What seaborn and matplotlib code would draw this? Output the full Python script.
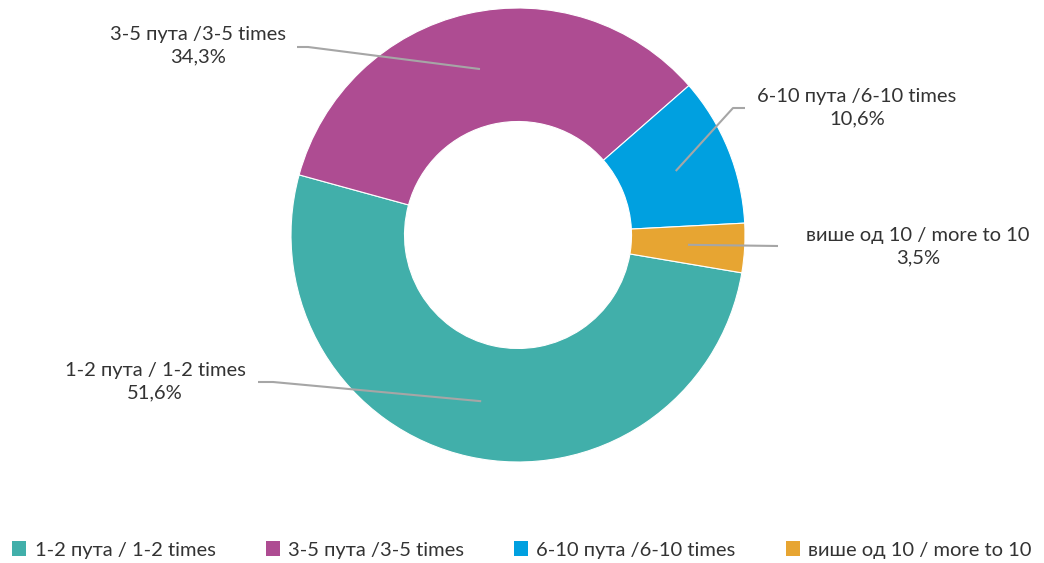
import numpy as np
import seaborn as sns
from matplotlib import pyplot as plt
from matplotlib.patches import Patch

sns.set_theme(style="white")
plt.rcParams['font.family'] = ['Lato', 'Open Sans', 'DejaVu Sans']

# 数据
categories = ['1-2 пута / 1-2 times', '3-5 пута /3-5 times',
              '6-10 пута /6-10 times', 'више од 10 / more to 10']
values = [51.6, 34.3, 10.6, 3.5]
pct_labels = ['51,6%', '34,3%', '10,6%', '3,5%']
colors = ['#41AFAA', '#AE4C92', '#00A0E0', '#E7A532']

W, H = 1044, 563
fig = plt.figure(figsize=(W / 100, H / 100), dpi=100)

# 圆环位置（像素）
cx, cy, R = 518, 235, 227
ax = fig.add_axes([(cx - R) / W, (H - cy - R) / H, 2 * R / W, 2 * R / H])

wedges, _ = ax.pie(values, colors=colors, startangle=-9.6, counterclock=False,
                   radius=1, wedgeprops=dict(width=0.5, edgecolor='white', linewidth=0.8))
ax.set_xlim(-1, 1)
ax.set_ylim(-1, 1)
ax.set_aspect('equal')
ax.axis('off')


def px2d(x, y):
    return (x - cx) / R, (cy - y) / R


# 标签文字位置 / 引线端点（像素）
text_pos = [(155, 382), (198, 46), (857, 108), (918, 247)]
line_start = [(258, 382), (297, 47), (745, 108), (778, 246)]
elbow = [(273, 382), (308, 47), (733, 108), (778, 246)]

for i, w in enumerate(wedges):
    mid = np.deg2rad((w.theta1 + w.theta2) / 2)
    ax_x, ax_y = 0.75 * np.cos(mid), 0.75 * np.sin(mid)
    p0 = px2d(*line_start[i])
    p1 = px2d(*elbow[i])
    ax.plot([p0[0], p1[0], ax_x], [p0[1], p1[1], ax_y], color='#A6A6A6',
            lw=1.5, clip_on=False, solid_capstyle='butt')
    tx, ty = px2d(*text_pos[i])
    ax.text(tx, ty, categories[i] + '\n' + pct_labels[i], ha='center', va='center',
            fontsize=14.5, color='#333333', linespacing=1.4, clip_on=False)

handles = [Patch(facecolor=c, edgecolor='none') for c in colors]
fig.legend(handles, categories, loc='center', bbox_to_anchor=(0.5, (H - 550) / H),
           ncol=4, frameon=False, handlelength=0.7, handleheight=0.7,
           handletextpad=0.4, columnspacing=2.5, labelcolor='#333333',
           prop=dict(size=14.5))

fig.savefig('out.png', dpi=100)
